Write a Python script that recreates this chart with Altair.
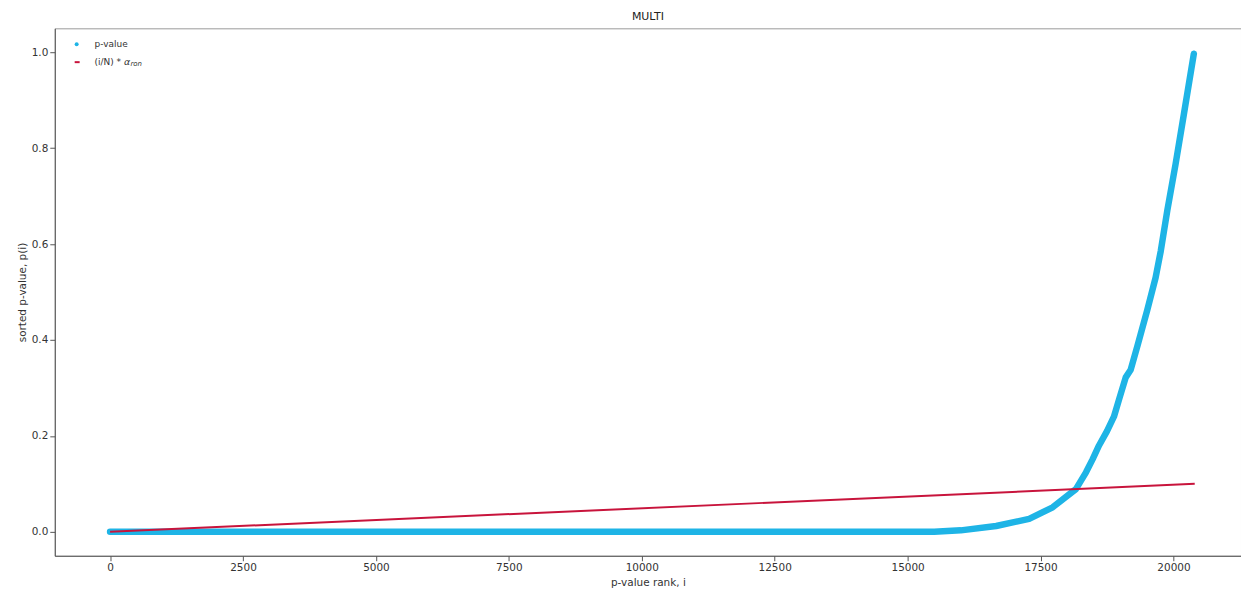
import altair as alt
import pandas as pd

# sorted p-values
p_rank = [0, 15500, 16000, 16665, 17285, 17728, 18165, 18355, 18478, 18600, 18750, 18880, 18977,
          19102, 19196, 19321, 19508, 19664, 19760, 19884, 20040, 20196, 20383]
p_value = [0.0, 0.0, 0.003, 0.012, 0.027, 0.051, 0.089, 0.124, 0.151, 0.180, 0.210, 0.240, 0.276,
           0.322, 0.338, 0.387, 0.463, 0.530, 0.585, 0.670, 0.767, 0.871, 0.997]

# threshold line (i/N) * alpha
t_rank = [0, 20400]
t_value = [0.0, 0.1]

s_p = "p-value"
s_t = "(i/N) * "
s_alpha = "α"
s_sub = "ron"
blue = "#1eb4e6"
red = "#c8143c"

df_p = pd.DataFrame({"rank": p_rank, "value": p_value})
df_t = pd.DataFrame({"rank": t_rank, "value": t_value})
df_one = pd.DataFrame({"k": [0]})

font = "DejaVu Sans"

x = alt.X(
    "rank:Q",
    scale=alt.Scale(domain=[-1040, 21270], nice=False, zero=False),
    axis=alt.Axis(values=list(range(0, 20001, 2500)), title="p-value rank, i", format="d"),
)
y = alt.Y(
    "value:Q",
    scale=alt.Scale(domain=[-0.05, 1.05], nice=False),
    axis=alt.Axis(values=[0.0, 0.2, 0.4, 0.6, 0.8, 1.0], format=".1f", title="sorted p-value, p(i)"),
)

pts = alt.Chart(df_p).mark_line(
    strokeWidth=6.5, strokeCap="round", strokeJoin="round", color=blue
).encode(x=x, y=y)
thr = alt.Chart(df_t).mark_line(strokeWidth=2, color=red).encode(x=x, y=y)

# legend (decoration)
leg_dot = alt.Chart(df_one).mark_point(filled=True, color=blue, size=16, opacity=1).encode(
    x=alt.value(22), y=alt.value(16)
)
leg_dash = alt.Chart(df_one).mark_rule(color=red, strokeWidth=2).encode(
    x=alt.value(20), x2=alt.value(25), y=alt.value(34)
)
txt = dict(align="left", baseline="middle", font=font, fontSize=9, color="#333")
leg_txt1 = alt.Chart(df_one).mark_text(text=s_p, **txt).encode(x=alt.value(40), y=alt.value(16))
leg_txt2 = alt.Chart(df_one).mark_text(text=s_t, **txt).encode(x=alt.value(40), y=alt.value(34))
leg_txt3 = alt.Chart(df_one).mark_text(
    text=s_alpha, align="left", baseline="middle", font=font, fontSize=9.5, fontStyle="italic", color="#333"
).encode(x=alt.value(69.5), y=alt.value(34))
leg_txt4 = alt.Chart(df_one).mark_text(
    text=s_sub, align="left", baseline="middle", font=font, fontSize=7, fontStyle="italic", color="#333"
).encode(x=alt.value(76), y=alt.value(36))

chart = (
    alt.layer(pts, thr, leg_dot, leg_dash, leg_txt1, leg_txt2, leg_txt3, leg_txt4)
    .properties(
        width=1192,
        height=530,
        title=alt.TitleParams("MULTI", anchor="middle", font=font, fontSize=11, fontWeight="normal", color="#222", offset=6),
        autosize=alt.AutoSizeParams(type="none"),
        padding={"left": 47, "top": 19, "right": 0, "bottom": 36},
    )
    .configure_view(stroke="#999", strokeWidth=1)
    .configure_axis(
        grid=False,
        domainColor="#555",
        tickColor="#555",
        tickSize=5,
        labelFont=font,
        labelFontSize=10.5,
        labelColor="#333",
        titleFont=font,
        titleFontSize=10.5,
        titleFontWeight="normal",
        titleColor="#333",
        labelPadding=2,
        titlePadding=4,
    )
)

chart.save("out.html", embed_options={"renderer": "svg", "actions": False})
